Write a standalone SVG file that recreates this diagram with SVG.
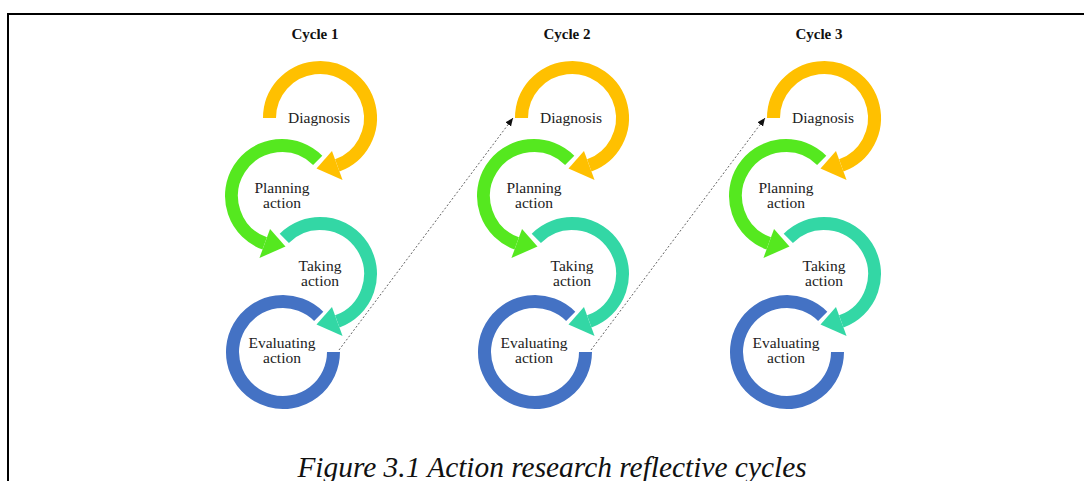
<svg xmlns="http://www.w3.org/2000/svg" xmlns:xlink="http://www.w3.org/1999/xlink" width="1084" height="481" viewBox="0 0 1084 481">
  <style>
    .lbl { font-family: "Liberation Serif", "Times New Roman", serif; font-size: 15.5px; fill: #222; text-anchor: middle; }
    .ttl { font-family: "Liberation Serif", "Times New Roman", serif; font-size: 15px; font-weight: bold; fill: #111; text-anchor: middle; }
    .cap { font-family: "Liberation Serif", "Times New Roman", serif; font-size: 29.4px; font-style: italic; fill: #111; text-anchor: middle; }
    .body { fill: none; stroke: currentColor; stroke-width: 13; stroke-linecap: butt; }
    .head { fill: currentColor; stroke: none; }
    .link { fill: none; stroke: #555; stroke-width: 0.9; stroke-dasharray: 2 2; }
    .frame { fill: none; stroke: #000; stroke-width: 2; }
    .diag { color: #FFC000; }
    .plan { color: #55E81F; }
    .take { color: #33D7A5; }
    .eval { color: #4472C4; }
  </style>
  <defs>
    <!-- ring arrow starting at 9 o'clock, running clockwise, head at the bottom -->
    <g id="arrow-from-left">
      <path class="body" d="M-50.5,0 A50.5,50.5 0 1 1 17.27,47.45"/>
      <polygon class="head" points="11.97,32.89 22.57,62.02 -3.49,50.38"/>
    </g>
    <!-- ring arrow starting at upper left, running clockwise, head at the bottom -->
    <g id="arrow-from-upper-left">
      <path class="body" d="M-35.71,-35.71 A50.5,50.5 0 1 1 17.27,47.45"/>
      <polygon class="head" points="11.97,32.89 22.57,62.02 -3.49,50.38"/>
    </g>
    <!-- open ring without head -->
    <path id="ring-open" class="body" d="M35.71,-35.71 A50.5,50.5 0 1 0 50.5,0"/>
    <marker id="tip" markerWidth="9" markerHeight="8" refX="8" refY="3.5" orient="auto" markerUnits="userSpaceOnUse">
      <path d="M0,0 L8,3.5 L0,7 z" fill="#111"/>
    </marker>
  </defs>

  <path class="frame" d="M8,481 V14 H1084"/>

  <!-- Cycle 1 -->
  <text class="ttl" x="315" y="39">Cycle 1</text>
  <g id="c1-diagnosis" class="diag">
    <use xlink:href="#arrow-from-left" transform="translate(320,118)"/>
    <text class="lbl" x="319" y="123">Diagnosis</text>
  </g>
  <g id="c1-planning" class="plan">
    <use xlink:href="#arrow-from-upper-left" transform="translate(282,196) scale(-1,1)"/>
    <text class="lbl" x="282" y="193">Planning</text>
    <text class="lbl" x="282" y="208">action</text>
  </g>
  <g id="c1-taking" class="take">
    <use xlink:href="#arrow-from-upper-left" transform="translate(320,274)"/>
    <text class="lbl" x="320" y="271">Taking</text>
    <text class="lbl" x="320" y="286">action</text>
  </g>
  <g id="c1-evaluating" class="eval">
    <use xlink:href="#ring-open" transform="translate(283,352)"/>
    <text class="lbl" x="282" y="348">Evaluating</text>
    <text class="lbl" x="282" y="363">action</text>
  </g>

  <!-- Cycle 2 -->
  <text class="ttl" x="567" y="39">Cycle 2</text>
  <g id="c2-diagnosis" class="diag">
    <use xlink:href="#arrow-from-left" transform="translate(572,118)"/>
    <text class="lbl" x="571" y="123">Diagnosis</text>
  </g>
  <g id="c2-planning" class="plan">
    <use xlink:href="#arrow-from-upper-left" transform="translate(534,196) scale(-1,1)"/>
    <text class="lbl" x="534" y="193">Planning</text>
    <text class="lbl" x="534" y="208">action</text>
  </g>
  <g id="c2-taking" class="take">
    <use xlink:href="#arrow-from-upper-left" transform="translate(572,274)"/>
    <text class="lbl" x="572" y="271">Taking</text>
    <text class="lbl" x="572" y="286">action</text>
  </g>
  <g id="c2-evaluating" class="eval">
    <use xlink:href="#ring-open" transform="translate(535,352)"/>
    <text class="lbl" x="534" y="348">Evaluating</text>
    <text class="lbl" x="534" y="363">action</text>
  </g>

  <!-- Cycle 3 -->
  <text class="ttl" x="819" y="39">Cycle 3</text>
  <g id="c3-diagnosis" class="diag">
    <use xlink:href="#arrow-from-left" transform="translate(824,118)"/>
    <text class="lbl" x="823" y="123">Diagnosis</text>
  </g>
  <g id="c3-planning" class="plan">
    <use xlink:href="#arrow-from-upper-left" transform="translate(786,196) scale(-1,1)"/>
    <text class="lbl" x="786" y="193">Planning</text>
    <text class="lbl" x="786" y="208">action</text>
  </g>
  <g id="c3-taking" class="take">
    <use xlink:href="#arrow-from-upper-left" transform="translate(824,274)"/>
    <text class="lbl" x="824" y="271">Taking</text>
    <text class="lbl" x="824" y="286">action</text>
  </g>
  <g id="c3-evaluating" class="eval">
    <use xlink:href="#ring-open" transform="translate(787,352)"/>
    <text class="lbl" x="786" y="348">Evaluating</text>
    <text class="lbl" x="786" y="363">action</text>
  </g>

  <!-- links from each cycle's evaluation to the next diagnosis -->
  <g id="connectors">
    <line class="link" x1="339" y1="350" x2="513" y2="118" marker-end="url(#tip)"/>
    <line class="link" x1="591" y1="350" x2="765" y2="118" marker-end="url(#tip)"/>
  </g>

  <text class="cap" x="552" y="477">Figure 3.1 Action research reflective cycles</text>
</svg>
